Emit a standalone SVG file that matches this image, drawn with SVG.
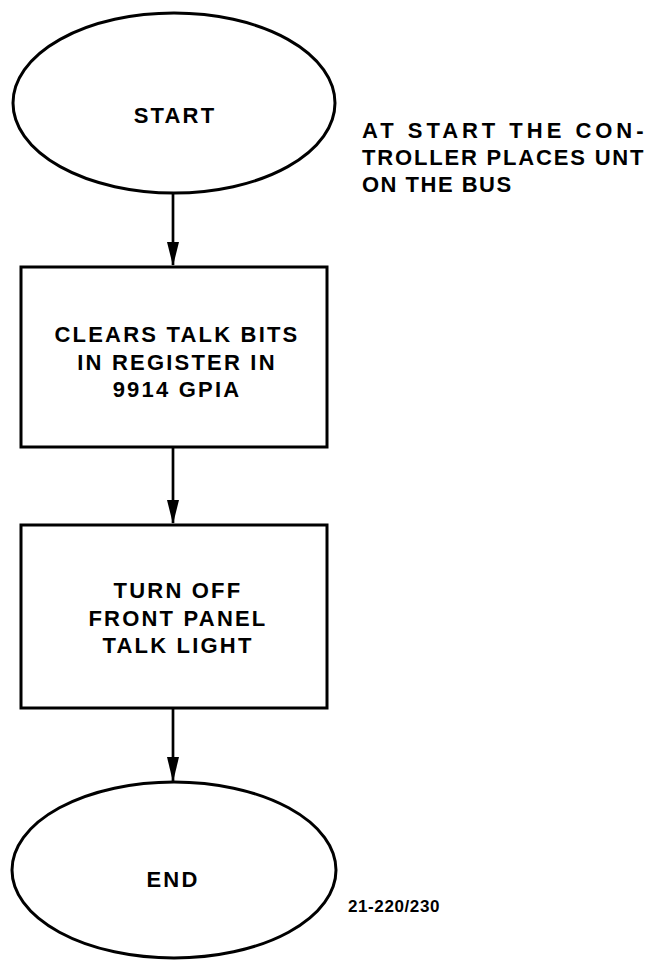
<svg xmlns="http://www.w3.org/2000/svg" width="647" height="962" viewBox="0 0 647 962">
<defs>
<style>
.shape{fill:#fff;stroke:#000;stroke-width:3}
.lbl{font-family:"Liberation Sans",Arial,sans-serif;font-weight:bold;font-size:22px;letter-spacing:2.2px;fill:#000;text-anchor:middle}
.note{font-family:"Liberation Sans",Arial,sans-serif;font-weight:bold;font-size:22px;letter-spacing:1.5px;fill:#000}
.fig{font-family:"Liberation Sans",Arial,sans-serif;font-weight:bold;font-size:17px;letter-spacing:0.6px;fill:#000}
.conn{stroke:#000;stroke-width:2.7;fill:none}
</style>
<marker id="ah" viewBox="0 0 24 12" refX="24" refY="6" markerWidth="24" markerHeight="12" markerUnits="userSpaceOnUse" orient="auto">
<path d="M0,0 L24,6 L0,12 Z" fill="#000"/>
</marker>
</defs>
<rect width="647" height="962" fill="#fff"/>
<g id="start">
<ellipse class="shape" cx="174" cy="103" rx="161" ry="90"/>
<text class="lbl" x="175" y="123">START</text>
</g>
<g id="note">
<text class="note" x="362" y="138" textLength="283" lengthAdjust="spacing">AT START THE CON-</text>
<text class="note" x="362" y="165" textLength="283" lengthAdjust="spacing">TROLLER PLACES UNT</text>
<text class="note" x="362" y="192">ON THE BUS</text>
</g>
<g id="clear">
<rect class="shape" x="21" y="267" width="306" height="180"/>
<text class="lbl" x="177" y="342">CLEARS TALK BITS</text>
<text class="lbl" x="177" y="370">IN REGISTER IN</text>
<text class="lbl" x="177" y="397">9914 GPIA</text>
</g>
<g id="turnoff">
<rect class="shape" x="21" y="525" width="306" height="183"/>
<text class="lbl" x="178" y="598">TURN OFF</text>
<text class="lbl" x="178" y="626">FRONT PANEL</text>
<text class="lbl" x="178" y="653">TALK LIGHT</text>
</g>
<g id="end">
<ellipse class="shape" cx="174" cy="870" rx="162" ry="88"/>
<text class="lbl" x="173" y="887">END</text>
</g>
<g id="figlabel">
<text class="fig" x="348" y="912">21-220/230</text>
</g>
<g id="connectors">
<path class="conn" d="M173,193 V265"/>
<path class="conn" d="M173,447 V523"/>
<path class="conn" d="M173,708 V781"/>
<path d="M167,242 L179,242 L173,266 Z" fill="#000"/>
<path d="M167,500 L179,500 L173,524 Z" fill="#000"/>
<path d="M167,757 L179,757 L173,782 Z" fill="#000"/>
</g>
</svg>
